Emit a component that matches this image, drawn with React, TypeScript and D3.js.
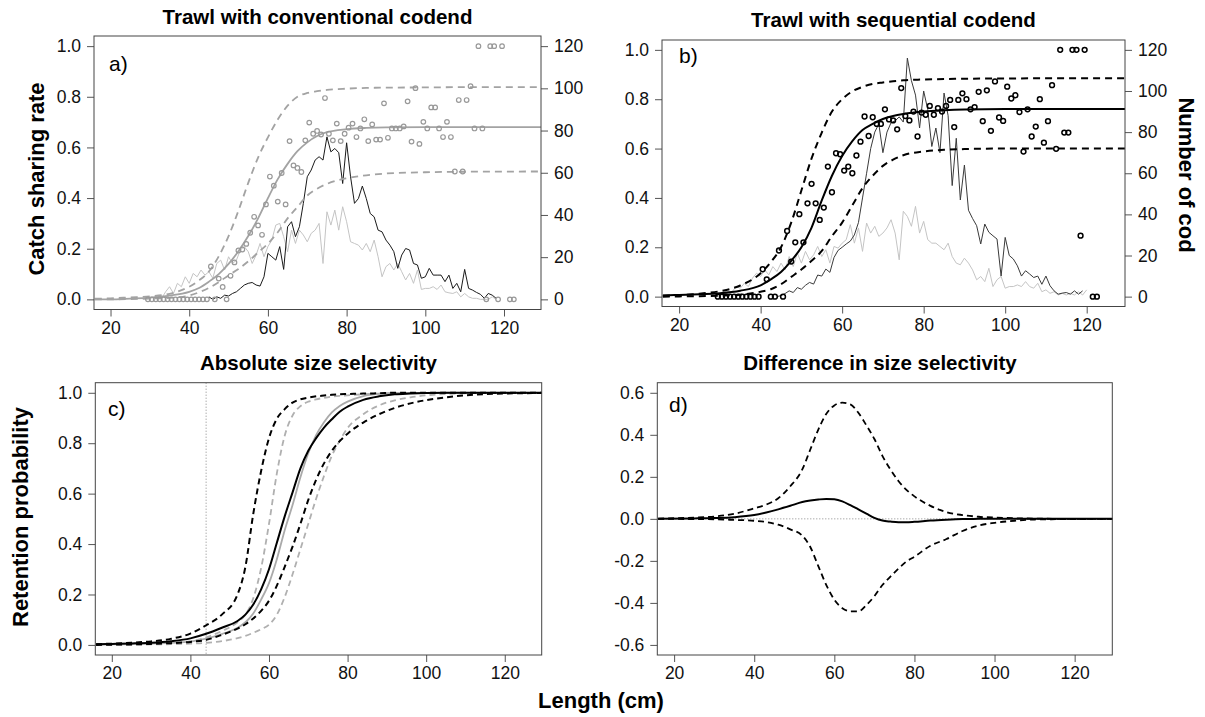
import React, { useEffect, useRef } from "react";
import * as d3 from "d3";

// ---------- data (length in cm) ----------
const xTicks = [20, 40, 60, 80, 100, 120];
const rateTicks = [0, 0.2, 0.4, 0.6, 0.8, 1.0];
const countTicks = [0, 20, 40, 60, 80, 100, 120];
const diffTicks = [-0.6, -0.4, -0.2, 0, 0.2, 0.4, 0.6];

// observed catch sharing rates (length classes)
const ptLen = [...d3.range(29.5, 120, 1), 121.5, 122.5];
const rateA = [
  0, 0, 0, 0, 0, 0, 0, 0, 0, 0, 0, 0, 0, 0, 0, 0,
  0.13, 0, 0.082, 0.049, 0, 0.093, 0.146, 0.193, 0.197, 0.219, 0.263, 0.326, 0.292, 0.255,
  0.375, 0.485, 0.449, 0.386, 0.499, 0.375, 0.625, 0.529, 0.519, 0.503, 0.628, 0.698, 0.654,
  0.665, 0.651, 0.795, 0.654, 0.628, 0.694, 0.625, 0.654, 0.678, 0.694, 0.641, 0.675, 0.711,
  0.625, 0.691, 0.631, 0.631, 0.774, 0.638, 0.675, 0.675, 0.675, 0.683, 0.782, 0.623, 0.834,
  0.614, 0.701, 0.675, 0.758, 0.758, 0.675, 0.641, 0.701, 0.641, 0.505, 0.787, 0.505, 0.787,
  0.842, 0.675, 1, 0.675, 0, 1, 1, 0, 1, 0, 0,
];
const rateB = [
  0, 0, 0, 0, 0, 0, 0, 0, 0, 0, 0,
  0.111, 0.07, 0, 0, 0.187, 0, 0.266, 0.142, 0.22, 0.334, 0.22, 0.378, 0.457, 0.378, 0.311,
  0.361, 0.527, 0.423, 0.581, 0.577, 0.511, 0.527, 0.5, 0.572, 0.628, 0.73, 0.651, 0.727,
  0.7, 0.7, 0.759, 0.718, 0.714, 0.678, 0.845, 0.732, 0.714, 0.75, 0.649, 0.746, 0.737,
  0.773, 0.737, 0.764, 0.75, 0.773, 0.797, 0.687, 0.797, 0.824, 0.8, 0.759, 0.768, 0.83,
  0.711, 0.836, 0.672, 0.872, 0.726, 0.712, 0.851, 0.803, 0.816, 0.748, 0.588, 0.759, 0.649,
  0.689, 0.8, 0.624, 0.711, 0.857, 0.599, 1, 0.665, 0.665, 1, 1, 0.247, 1, 0, 0,
];

// numbers of cod per length class (right axis)
const codStartA = 45;
const codA = [
  1.2, 0, 1.2, 0.5, 2, 1.6, 2.8, 3.6, 5.2, 6.8, 7.6, 8, 6.8, 6.3, 10.7, 21.8, 20.2, 18.6, 25,
  14.2, 34.4, 36.8, 29.7, 34.4, 45.5, 58.1, 61.3, 66, 67.6, 66, 77, 69.9, 71.5, 69.5, 54.9,
  74.2, 58.1, 45.5, 47.8, 53.7, 47.8, 40.7, 39.1, 32.8, 32, 28.1, 25.7, 22.6, 14.7, 21, 24.1,
  23.4, 17, 16.3, 10, 10.7, 14.7, 11.5, 11.5, 11.5, 8.4, 11.5, 5.2, 7.6, 3.6, 14.2, 5.2, 4.4,
  3.3, 2.4, 0.5, 2.8, 2, 0.5,
];
const ctrlStartA = 33;
const ctrlA = [
  0.5, 3.6, 6, 2.8, 7.6, 6, 10.7, 7.6, 12.3, 10.7, 13.9, 11.5, 13.1, 10, 17, 18.6, 13.9, 20.2,
  17, 18.6, 23.4, 25, 22.6, 17, 21, 26.5, 20.2, 25, 28.1, 35.2, 36, 29.7, 22.6, 32.8, 26.5,
  32.8, 30.5, 27.3, 31.3, 32.8, 36, 17, 41.5, 35.2, 42.3, 32.8, 43.9, 36.8, 27.3, 26.5, 25.7,
  23.4, 26.5, 22.6, 28.1, 20.2, 10.7, 15.5, 17, 13.9, 17, 13.1, 9.2, 12.3, 7.6, 13.9, 4.7,
  5.2, 5.2, 6, 4.7, 6.8, 3.6, 3.1, 2.8, 3.6, 1.2, 2.8, 1.2, 0.5, 0.5, 0, 0, 0, 1.2, 0,
];
const codStartB = 44;
const codB = [
  0, 0.5, 1.5, 2.8, 2, 4.4, 3.6, 5.5, 6.9, 6.1, 10.5, 10, 13.4, 11.8, 19, 22.5, 24, 25.6, 27,
  30, 36, 48, 60, 72, 80, 84, 70, 80, 84.6, 85.5, 87.4, 84.9, 116, 105, 98, 82, 100, 91, 73,
  82, 70, 99, 88, 54, 77, 47, 64, 42, 38, 34.5, 25.6, 35.3, 31.3, 29.6, 28, 10, 28.8, 20,
  18.3, 15, 10, 12.6, 11, 9.3, 10, 6, 10, 5.3, 2.8, 1.2, 1.7, 2, 1.2, 2.8, 1.2, 2.8,
];
const ctrlStartB = 31;
const ctrlB = [
  0, 1.6, 2.4, 4.9, 4.1, 6.5, 4.9, 9, 11.4, 9.8, 13, 10.6, 14.6, 12.2, 16.3, 13, 19.5, 14.6,
  21.2, 16.3, 22, 17.9, 20.3, 24.4, 19.5, 22.8, 16.3, 24.4, 23.6, 26, 27.7, 35, 26, 33.4, 22,
  35.8, 30.9, 34.2, 29.3, 30.9, 33.4, 37.4, 30.9, 17.9, 41.5, 39, 34.2, 43.9, 30.9, 36.6,
  27.7, 26, 26, 24.4, 22.8, 26, 19.5, 16.3, 15.5, 18.7, 16.3, 13, 8.2, 9.8, 7.3, 13.8, 4.9,
  8.2, 9.8, 4.1, 4.9, 4.9, 5.7, 4.9, 7.3, 4.9, 4.1, 6.5, 2.4, 3.3, 1.6, 2.4, 0.8, 1.6, 0.8,
  1.6, 0.8, 2.4, 0.8, 3.3,
];

// fitted catch sharing curves with confidence bands
const fitLenAB = [16, 20, 25, 30, 35, 40, 42.5, 45, 47.5, 50, 52.5, 55, 57.5, 60, 62.5, 65, 67.5, 70, 72.5, 75, 80, 85, 90, 100, 110, 130];
const fitA = [0, 0, 0.003, 0.007, 0.015, 0.03, 0.045, 0.07, 0.1, 0.14, 0.19, 0.25, 0.32, 0.4, 0.475, 0.535, 0.585, 0.62, 0.645, 0.66, 0.672, 0.677, 0.679, 0.68, 0.68, 0.68];
const hiA = [0.003, 0.004, 0.008, 0.012, 0.022, 0.05, 0.075, 0.11, 0.17, 0.25, 0.35, 0.46, 0.56, 0.64, 0.71, 0.765, 0.8, 0.815, 0.822, 0.827, 0.832, 0.835, 0.836, 0.837, 0.838, 0.838];
const loA = [0, 0, 0.001, 0.003, 0.006, 0.015, 0.028, 0.045, 0.068, 0.095, 0.12, 0.15, 0.185, 0.22, 0.265, 0.32, 0.365, 0.41, 0.437, 0.456, 0.478, 0.49, 0.497, 0.502, 0.504, 0.505];
const fitB = [0.005, 0.007, 0.01, 0.014, 0.024, 0.046, 0.07, 0.1, 0.145, 0.2, 0.28, 0.39, 0.49, 0.57, 0.63, 0.675, 0.7, 0.72, 0.732, 0.74, 0.75, 0.755, 0.758, 0.76, 0.76, 0.76];
const hiB = [0.004, 0.006, 0.012, 0.022, 0.045, 0.095, 0.14, 0.2, 0.3, 0.43, 0.56, 0.665, 0.75, 0.8, 0.832, 0.85, 0.862, 0.868, 0.873, 0.877, 0.88, 0.882, 0.883, 0.884, 0.885, 0.885];
const loB = [0, 0.001, 0.002, 0.004, 0.008, 0.02, 0.03, 0.05, 0.08, 0.11, 0.145, 0.185, 0.245, 0.3, 0.37, 0.44, 0.49, 0.53, 0.555, 0.573, 0.588, 0.595, 0.598, 0.6, 0.6, 0.6];

// absolute size selectivity
const selLen = [16, 20, 25, 30, 35, 40, 44, 48, 52, 54, 56, 58, 60, 62, 64, 66, 68, 70, 72, 74, 76, 78, 80, 84, 88, 92, 96, 100, 105, 110, 120, 130];
const selSeq = [0.003, 0.004, 0.006, 0.009, 0.015, 0.026, 0.044, 0.068, 0.095, 0.12, 0.16, 0.22, 0.3, 0.405, 0.51, 0.605, 0.7, 0.77, 0.82, 0.862, 0.895, 0.925, 0.945, 0.972, 0.986, 0.994, 0.997, 0.999, 1, 1, 1, 1];
const selSeqHi = [0.003, 0.005, 0.009, 0.014, 0.024, 0.045, 0.078, 0.12, 0.2, 0.31, 0.52, 0.69, 0.82, 0.897, 0.935, 0.961, 0.974, 0.981, 0.986, 0.989, 0.992, 0.994, 0.995, 0.997, 0.998, 1, 1, 1, 1, 1, 1, 1];
const selSeqLo = [0, 0.001, 0.002, 0.004, 0.007, 0.012, 0.02, 0.04, 0.065, 0.082, 0.105, 0.135, 0.175, 0.235, 0.31, 0.39, 0.48, 0.575, 0.655, 0.72, 0.77, 0.808, 0.838, 0.882, 0.915, 0.94, 0.958, 0.971, 0.982, 0.99, 0.997, 0.999];
const selCon = [0.001, 0.002, 0.003, 0.005, 0.008, 0.013, 0.025, 0.043, 0.068, 0.09, 0.125, 0.18, 0.245, 0.34, 0.455, 0.555, 0.665, 0.76, 0.832, 0.883, 0.922, 0.948, 0.965, 0.987, 0.996, 0.999, 1, 1, 1, 1, 1, 1];
const selConHi = [0.001, 0.002, 0.003, 0.005, 0.008, 0.014, 0.03, 0.055, 0.09, 0.12, 0.185, 0.305, 0.48, 0.68, 0.83, 0.91, 0.947, 0.965, 0.974, 0.98, 0.985, 0.988, 0.99, 0.994, 0.997, 0.999, 1, 1, 1, 1, 1, 1];
const selConLo = [0, 0, 0.001, 0.002, 0.003, 0.005, 0.008, 0.015, 0.027, 0.036, 0.048, 0.062, 0.08, 0.12, 0.19, 0.28, 0.38, 0.48, 0.58, 0.67, 0.75, 0.81, 0.86, 0.915, 0.95, 0.97, 0.982, 0.99, 0.995, 0.998, 1, 1];
const mlsLength = 44;

// difference in size selectivity
const diffLen = [16, 25, 30, 35, 40, 43, 46, 49, 52, 54, 56, 58, 60, 62, 64, 66, 68, 70, 72, 74, 76, 78, 80, 84, 88, 92, 96, 100, 105, 110, 120, 130];
const diffMid = [0, 0.002, 0.004, 0.008, 0.018, 0.03, 0.045, 0.062, 0.08, 0.087, 0.092, 0.095, 0.093, 0.083, 0.065, 0.045, 0.025, 0.005, -0.008, -0.013, -0.016, -0.016, -0.014, -0.008, -0.004, -0.001, 0, 0.001, 0.001, 0, 0, 0];
const diffHi = [0.001, 0.006, 0.011, 0.024, 0.05, 0.068, 0.098, 0.155, 0.235, 0.33, 0.425, 0.5, 0.54, 0.553, 0.545, 0.505, 0.445, 0.38, 0.3, 0.235, 0.18, 0.138, 0.107, 0.062, 0.032, 0.018, 0.01, 0.006, 0.003, 0.001, 0, 0];
const diffLo = [0, -0.001, -0.002, -0.005, -0.009, -0.015, -0.028, -0.05, -0.08, -0.134, -0.225, -0.315, -0.385, -0.425, -0.44, -0.44, -0.41, -0.368, -0.315, -0.275, -0.237, -0.203, -0.18, -0.128, -0.096, -0.058, -0.032, -0.019, -0.009, -0.003, -0.001, 0];

// ---------- drawing ----------
const FONT = "'Liberation Sans', Arial, Helvetica, sans-serif";
const TICK_FS = 17.5;
const TITLE_FS = 20.5;
const LAB_FS = 22;
type Box = { l: number; r: number; t: number; b: number };

const zip = (xs: number[], ys: number[]) => ys.map((v, i) => [xs[i], v] as [number, number]);
const seq = (start: number, ys: number[]) => ys.map((v, i) => [start + i, v] as [number, number]);

function styleAxis(g: any) {
  g.select(".domain").remove();
  g.attr("font-size", TICK_FS).attr("font-family", FONT);
  g.selectAll("line").attr("stroke", "#555");
  g.selectAll("text").attr("fill", "#111");
}

function makePanel(svg: any, id: string, box: Box, yDom: [number, number], yTicks: number[]) {
  const x = d3.scaleLinear().domain([15.8, 129.4]).range([box.l, box.r]);
  const y = d3.scaleLinear().domain(yDom).range([box.b, box.t]);

  svg.append("clipPath").attr("id", id)
    .append("rect").attr("x", box.l).attr("y", box.t)
    .attr("width", box.r - box.l).attr("height", box.b - box.t);

  svg.append("g").attr("transform", `translate(0,${box.b})`)
    .call(d3.axisBottom(x).tickValues(xTicks).tickSize(7).tickPadding(5).tickFormat(d3.format("d")))
    .call(styleAxis);

  svg.append("g").attr("transform", `translate(${box.l},0)`)
    .call(d3.axisLeft(y).tickValues(yTicks).tickSize(7).tickPadding(6).tickFormat((d: any) => (+d).toFixed(1)))
    .call(styleAxis);

  const plot = svg.append("g").attr("clip-path", `url(#${id})`);
  return { x, y, plot };
}

function drawBox(svg: any, box: Box) {
  svg.append("rect").attr("x", box.l).attr("y", box.t)
    .attr("width", box.r - box.l).attr("height", box.b - box.t)
    .attr("fill", "none").attr("stroke", "#444").attr("stroke-width", 1);
}

function rightAxis(svg: any, box: Box) {
  const yr = d3.scaleLinear().domain([-4.8, 124.8]).range([box.b, box.t]);
  svg.append("g").attr("transform", `translate(${box.r},0)`)
    .call(d3.axisRight(yr).tickValues(countTicks).tickSize(7).tickPadding(6))
    .call(styleAxis);
  return yr;
}

function addText(svg: any, txt: string, x: number, y: number, size: number, bold: boolean, anchor = "middle", rot = 0) {
  svg.append("text")
    .attr("transform", `translate(${x},${y}) rotate(${rot})`)
    .attr("text-anchor", anchor)
    .attr("font-family", FONT)
    .attr("font-size", size)
    .attr("font-weight", bold ? "bold" : "normal")
    .attr("fill", "#000")
    .text(txt);
}

function App() {
  const ref = useRef<SVGSVGElement>(null);

  useEffect(() => {
    const svg = d3.select(ref.current);
    svg.selectAll("*").remove();

    const smooth = (x: any, y: any) =>
      d3.line<[number, number]>().x((d) => x(d[0])).y((d) => y(d[1])).curve(d3.curveMonotoneX);
    const jag = (x: any, y: any) =>
      d3.line<[number, number]>().x((d) => x(d[0])).y((d) => y(d[1]));

    // ---- panel a ----
    const boxA = { l: 94, r: 541, t: 36, b: 309.5 };
    {
      const { x, y, plot } = makePanel(svg, "clipA", boxA, [-0.04, 1.04], rateTicks);
      const yr = rightAxis(svg, boxA);
      const grey = "#a3a3a3";
      plot.append("path").attr("d", jag(x, yr)(seq(ctrlStartA, ctrlA)))
        .attr("fill", "none").attr("stroke", "#c4c4c4").attr("stroke-width", 1);
      plot.append("path").attr("d", jag(x, yr)(seq(codStartA, codA)))
        .attr("fill", "none").attr("stroke", "#1a1a1a").attr("stroke-width", 1);
      [hiA, loA].forEach((arr) =>
        plot.append("path").attr("d", smooth(x, y)(zip(fitLenAB, arr)))
          .attr("fill", "none").attr("stroke", grey).attr("stroke-width", 1.8).attr("stroke-dasharray", "7,5"));
      plot.append("path").attr("d", smooth(x, y)(zip(fitLenAB, fitA)))
        .attr("fill", "none").attr("stroke", grey).attr("stroke-width", 1.8);
      plot.selectAll("circle.pa").data(zip(ptLen, rateA)).enter().append("circle")
        .attr("cx", (d: any) => x(d[0])).attr("cy", (d: any) => y(d[1])).attr("r", 2.3)
        .attr("fill", "none").attr("stroke", "#999").attr("stroke-width", 1.2);
      drawBox(svg, boxA);
      addText(svg, "a)", 109, 71, 21, false, "start");
      addText(svg, "Trawl with conventional codend", (boxA.l + boxA.r) / 2, 24, TITLE_FS, true);
      addText(svg, "Catch sharing rate", 44, 179, LAB_FS, true, "middle", -90);
    }

    // ---- panel b ----
    const boxB = { l: 662, r: 1125, t: 40, b: 306.5 };
    {
      const { x, y, plot } = makePanel(svg, "clipB", boxB, [-0.04, 1.04], rateTicks);
      const yr = rightAxis(svg, boxB);
      plot.append("path").attr("d", jag(x, yr)(seq(ctrlStartB, ctrlB)))
        .attr("fill", "none").attr("stroke", "#c4c4c4").attr("stroke-width", 1);
      plot.append("path").attr("d", jag(x, yr)(seq(codStartB, codB)))
        .attr("fill", "none").attr("stroke", "#3a3a3a").attr("stroke-width", 1);
      [hiB, loB].forEach((arr) =>
        plot.append("path").attr("d", smooth(x, y)(zip(fitLenAB, arr)))
          .attr("fill", "none").attr("stroke", "#000").attr("stroke-width", 2).attr("stroke-dasharray", "7,5"));
      plot.append("path").attr("d", smooth(x, y)(zip(fitLenAB, fitB)))
        .attr("fill", "none").attr("stroke", "#000").attr("stroke-width", 2);
      plot.selectAll("circle.pb").data(zip(ptLen, rateB)).enter().append("circle")
        .attr("cx", (d: any) => x(d[0])).attr("cy", (d: any) => y(d[1])).attr("r", 2.4)
        .attr("fill", "none").attr("stroke", "#000").attr("stroke-width", 1.5);
      drawBox(svg, boxB);
      addText(svg, "b)", 679, 63, 21, false, "start");
      addText(svg, "Trawl with sequential codend", (boxB.l + boxB.r) / 2, 27, TITLE_FS, true);
      addText(svg, "Number of cod", 1179, 175, LAB_FS, true, "middle", 90);
    }

    // ---- panel c ----
    const boxC = { l: 95.3, r: 541.7, t: 382.7, b: 655 };
    {
      const { x, y, plot } = makePanel(svg, "clipC", boxC, [-0.04, 1.04], rateTicks);
      plot.append("line").attr("x1", x(mlsLength)).attr("x2", x(mlsLength))
        .attr("y1", boxC.t).attr("y2", boxC.b)
        .attr("stroke", "#888").attr("stroke-width", 1).attr("stroke-dasharray", "1,2");
      [selConHi, selConLo].forEach((arr) =>
        plot.append("path").attr("d", smooth(x, y)(zip(selLen, arr)))
          .attr("fill", "none").attr("stroke", "#b0b0b0").attr("stroke-width", 1.8).attr("stroke-dasharray", "6,4"));
      plot.append("path").attr("d", smooth(x, y)(zip(selLen, selCon)))
        .attr("fill", "none").attr("stroke", "#aaa").attr("stroke-width", 1.8);
      [selSeqHi, selSeqLo].forEach((arr) =>
        plot.append("path").attr("d", smooth(x, y)(zip(selLen, arr)))
          .attr("fill", "none").attr("stroke", "#000").attr("stroke-width", 2).attr("stroke-dasharray", "6,4"));
      plot.append("path").attr("d", smooth(x, y)(zip(selLen, selSeq)))
        .attr("fill", "none").attr("stroke", "#000").attr("stroke-width", 2);
      drawBox(svg, boxC);
      addText(svg, "c)", 108, 416, 21, false, "start");
      addText(svg, "Absolute size selectivity", (boxC.l + boxC.r) / 2, 370, TITLE_FS, true);
      addText(svg, "Retention probability", 28, 517, LAB_FS, true, "middle", -90);
    }

    // ---- panel d ----
    const boxD = { l: 657.3, r: 1112.3, t: 382.7, b: 655 };
    {
      const { x, y, plot } = makePanel(svg, "clipD", boxD, [-0.648, 0.648], diffTicks);
      plot.append("line").attr("x1", boxD.l).attr("x2", boxD.r)
        .attr("y1", y(0)).attr("y2", y(0))
        .attr("stroke", "#888").attr("stroke-width", 1).attr("stroke-dasharray", "1,2");
      [diffHi, diffLo].forEach((arr) =>
        plot.append("path").attr("d", smooth(x, y)(zip(diffLen, arr)))
          .attr("fill", "none").attr("stroke", "#000").attr("stroke-width", 1.8).attr("stroke-dasharray", "6,4"));
      plot.append("path").attr("d", smooth(x, y)(zip(diffLen, diffMid)))
        .attr("fill", "none").attr("stroke", "#000").attr("stroke-width", 2);
      drawBox(svg, boxD);
      addText(svg, "d)", 669, 412, 21, false, "start");
      addText(svg, "Difference in size selectivity", 880, 370, TITLE_FS, true);
    }

    addText(svg, "Length (cm)", 601, 708, LAB_FS, true);
  }, []);

  return (
    <svg
      ref={ref}
      width={1205}
      height={717}
      style={{ position: "absolute", left: 0, top: 0, background: "#fff" }}
    />
  );
}

export default App;
